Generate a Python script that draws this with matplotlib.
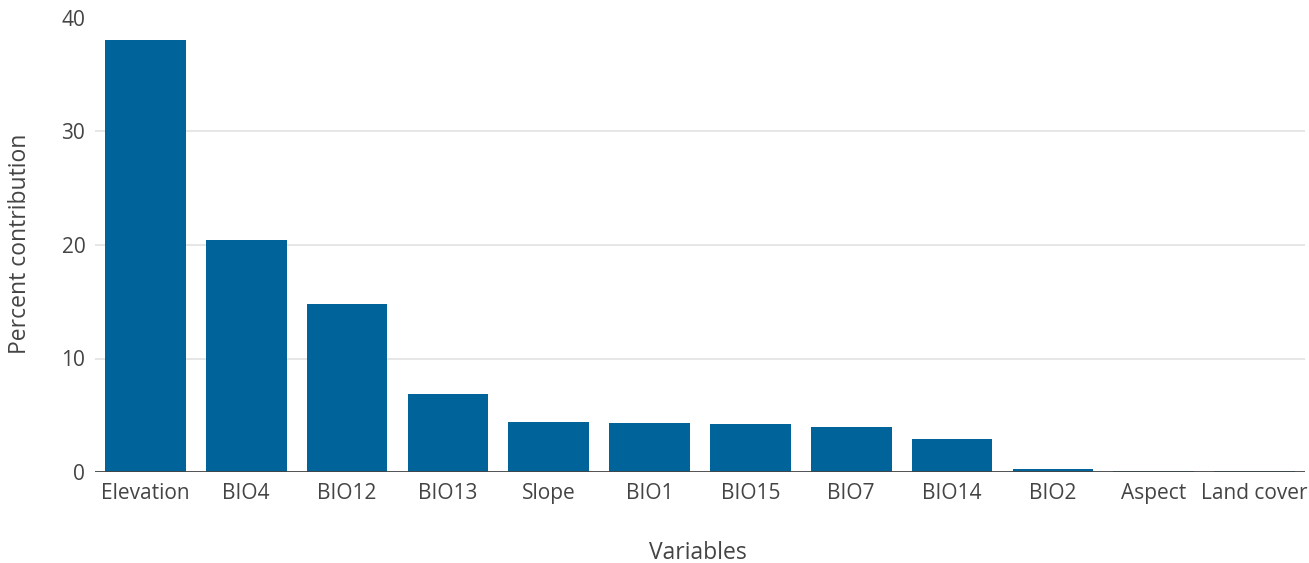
import matplotlib
matplotlib.use("Agg")
import matplotlib.pyplot as plt

variables = ["Elevation", "BIO4", "BIO12", "BIO13", "Slope", "BIO1", "BIO15",
             "BIO7", "BIO14", "BIO2", "Aspect", "Land cover"]
contribution = [38.1, 20.4, 14.8, 6.85, 4.4, 4.3, 4.2, 3.95, 2.95, 0.25, 0.08, 0.08]
yticks = [0, 10, 20, 30, 40]
grid_levels = [10, 20, 30]

plt.rcParams['font.family'] = ['Open Sans', 'DejaVu Sans']

W, H = 1309, 563
fig = plt.figure(figsize=(W / 100, H / 100), dpi=100)
ax = fig.add_axes([95/W, 1 - 472/H, (1305 - 95)/W, (472 - 18)/H])

x = range(len(variables))
ax.bar(x, contribution, width=0.8, color="#00649a", zorder=2)
ax.set_xlim(-0.5, len(variables) - 0.5)
ax.set_ylim(0, 40)
ax.set_yticks(yticks)
ax.set_xticks(list(x))
ax.set_xticklabels(variables)
ax.tick_params(axis='both', length=0, labelsize=15, labelcolor="#444444")
ax.tick_params(axis='x', pad=8)
ax.tick_params(axis='y', pad=7)
for s in ax.spines.values():
    s.set_visible(False)
for g in grid_levels:
    ax.axhline(g, color="#e2e2e2", linewidth=1.2, zorder=0)
ax.axhline(0, color="#444444", linewidth=1.3, zorder=3)

fig.text(698/W, 1 - 559/H, "Variables", fontsize=16.5, color="#444444",
         ha='center', va='baseline')
fig.text(20/W, 1 - 244/H, "Percent contribution", fontsize=16.5, color="#444444",
         ha='center', va='center', rotation=90)

fig.savefig("out.png", dpi=100)
